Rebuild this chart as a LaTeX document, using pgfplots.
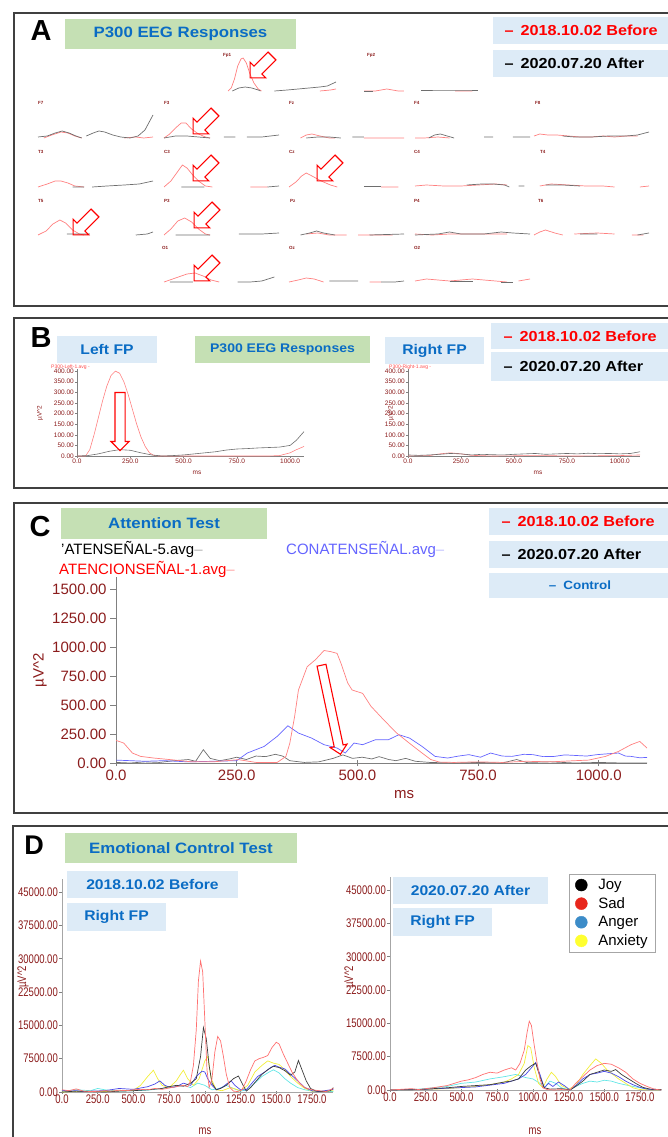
\documentclass[border=0pt]{standalone}
\usepackage{pgfplots}
\pgfplotsset{compat=1.18}
\usepackage{fontspec}
\setmainfont{Liberation Sans}
\newfontfamily\boxfont[FakeStretch=1.12]{Liberation Sans}
\newfontfamily\narrowfont[FakeStretch=0.76]{Liberation Sans}
\usetikzlibrary{shapes.arrows}

\definecolor{boxgreen}{HTML}{C5E0B4}
\definecolor{boxblue}{HTML}{DDEBF7}
\definecolor{titleblue}{HTML}{0A6CC4}
\definecolor{tickred}{HTML}{8B1C1C}
\definecolor{eegred}{HTML}{FF8080}
\definecolor{eeggray}{HTML}{6E6E6E}
\definecolor{ctrlblue}{HTML}{6464FF}
\definecolor{dsad}{HTML}{FF7070}
\definecolor{djoy}{HTML}{3C3C3C}
\definecolor{danger}{HTML}{4A4AE8}
\definecolor{danx}{HTML}{F2EE3A}
\definecolor{dcyan}{HTML}{62E6E6}
\definecolor{legred}{HTML}{E8261C}
\definecolor{legblue}{HTML}{3C8CC8}
\definecolor{legyellow}{HTML}{FFFF30}

\newcommand{\bxf}[1]{\boxfont\bfseries\fontsize{#1}{#1}\selectfont}
\newcommand{\dfont}{\narrowfont\fontsize{12.5}{12.5}\selectfont}

\pgfplotsset{
  mini/.style={scale only axis, height=35pt, xmin=0, xmax=100, ymin=0, ymax=35,
    hide axis, anchor=south west, clip=false, unbounded coords=jump},
  ared/.style={eegred, line width=0.7pt},
  agray/.style={eeggray, line width=0.7pt},
  baxis/.style={scale only axis, anchor=south west, height=87pt, ymin=0, ymax=410, xmin=0,
    axis x line=bottom, axis y line=left, axis line style={-, gray, line width=0.5pt},
    xtick={0,250,500,750,1000}, ytick={0,50,...,400},
    tick style={gray, line width=0.4pt}, major tick length=2pt, tick align=outside,
    ticklabel style={font=\fontsize{6.5}{6.5}\selectfont, text=tickred, inner sep=1pt},
    /pgf/number format/assume math mode=true, scaled ticks=false,
    xticklabel style={/pgf/number format/.cd, fixed, fixed zerofill, precision=1, 1000 sep={}},
    yticklabel style={/pgf/number format/.cd, fixed, fixed zerofill, precision=2, 1000 sep={}},
    unbounded coords=jump},
  daxis/.style={scale only axis, anchor=south west, width=271.4pt, height=213.3pt,
    xmin=0, xmax=1900, ymin=0, ymax=48000,
    axis x line=bottom, axis y line=left, axis line style={-, gray!70, line width=0.6pt},
    xtick={0,250,...,1750}, ytick={0,7500,...,45000},
    tick style={gray, line width=0.5pt}, major tick length=3pt, xtick align=center, ytick align=outside,
    ticklabel style={font=\dfont, text=tickred, inner sep=1pt},
    /pgf/number format/assume math mode=true, scaled ticks=false,
    xticklabel style={/pgf/number format/.cd, fixed, fixed zerofill, precision=1, 1000 sep={}},
    yticklabel style={/pgf/number format/.cd, fixed, fixed zerofill, precision=2, 1000 sep={}}},
}

\newcommand{\mini}[5]{%
  \begin{axis}[mini, width=#3pt, at={(#1pt,-#2pt)}]
    \addplot[ared] coordinates {#4};
    \addplot[agray] coordinates {#5};
  \end{axis}}

\begin{document}
\begin{tikzpicture}
% ================= Panel A: mini traces =================
\mini{228}{91}{108}{(0,0)(3,3)(6,12)(9,25)(12,32)(14,33)(17,28)(20,18)(24,8)(28,2)(31,0) (31,nan) (85,0)(95,1)(100,2)}{(4,0)(10,3)(16,4)(22,3)(28,1)(30,0) (30,nan) (43,0)(55,1)(65,2)(75,3)(85,4)(92,5)(100,9)}
\mini{364}{91}{114}{(0,0)(10,0)(15,1)(20,2)(25,1)(30,0)(35,0) (35,nan) (80,0)(95,0)}{(0,0)(8,0) (8,nan) (50,1)(70,1)(90,1)(100,1)}
% row 2
\mini{38}{138}{115}{(5,0)(12,3)(20,6)(26,5)(32,2)(38,0) (38,nan) (75,0)(85,1)(92,0)(100,1)}{(0,1)(8,2)(15,5)(21,7)(27,5)(33,2)(38,0) (38,nan) (42,2)(48,5)(53,7)(58,6)(65,3)(72,1)(80,0)(87,2)(93,8)(100,23)}
\mini{164}{138}{115}{(0,0)(5,4)(10,10)(15,15)(19,15)(24,9)(30,4)(36,1)(40,0)}{(0,0)(10,2)(20,2)(30,1)(40,0) (40,nan) (52,1)(62,1) (62,nan) (72,1)(85,1)(100,3)}
\mini{289}{138}{115}{(10,0)(15,3)(20,4)(27,2)(35,0)(40,0) (40,nan) (65,0)(100,0)}{(15,0)(25,1)(35,1)(45,0) (45,nan) (55,1)(65,1)}
\mini{415}{138}{115}{(0,0)(8,0)(20,1)(30,0)}{(12,0)(17,3)(22,4)(28,2)(34,0) (34,nan) (60,1)(68,1) (68,nan) (85,1)(100,1)}
\mini{534}{138}{115}{(0,2)(5,4)(12,3)(20,3)(30,2)(40,1)(50,1)(60,2)(70,1)(80,2)(90,2)}{(25,2)(35,1)(50,1)(65,2)(80,2)(90,3)(100,6)}
% row 3
\mini{38}{187}{115}{(0,0)(8,3)(15,6)(20,6)(26,4)(32,1)(40,0)}{(30,0)(40,0) (40,nan) (47,0)(60,1)(75,2)(88,3)(100,6)}
\mini{164}{187}{115}{(0,0)(6,6)(11,14)(16,22)(20,19)(25,12)(30,6)(36,1)(42,0) (42,nan) (75,0)(90,0)}{(15,0)(35,0) (35,nan) (90,0)(100,1)}
\mini{289}{187}{115}{(0,0)(6,5)(11,11)(15,14)(20,11)(28,6)(36,2)(42,0) (42,nan) (80,0)(95,0)}{(65,1)(80,1)}
\mini{415}{187}{115}{(0,1)(10,2)(25,1)(40,1)(55,2)(70,3)(80,2)}{(45,2)(58,3)(68,3)(78,2)(82,0) (82,nan) (90,1)(95,1)}
\mini{534}{187}{115}{(5,1)(15,3)(30,2)(45,1)(60,1)(70,0) (70,nan) (92,0)(100,1)}{(10,2)(25,2)(40,1)}
% row 4
\mini{38}{235}{115}{(0,0)(7,4)(13,11)(19,15)(24,12)(30,5)(36,1)(40,0)}{(25,1)(45,1) (45,nan) (85,0)(95,1)(100,3)}
\mini{164}{235}{115}{(0,0)(6,6)(12,14)(18,17)(24,13)(30,6)(36,1)(40,0)}{(10,0)(40,0) (40,nan) (65,1)(85,1)(100,2)}
\mini{289}{235}{115}{(15,1)(25,2)(35,0)(50,0) (50,nan) (60,0)(90,0)}{(10,0)(18,2)(24,4)(30,2)(40,0) (40,nan) (70,0)(100,1)}
\mini{415}{235}{115}{(0,1)(15,0)(30,1)(50,1)(80,1)}{(0,0)(20,1)(30,3)(40,1)(60,1)(75,3)(85,2)(100,1)}
\mini{534}{235}{115}{(0,0)(5,3)(10,5)(18,2)(25,0) (25,nan) (35,1)(55,2)(70,1) (70,nan) (85,0)(95,0)}{(40,1)(55,1) (55,nan) (90,0)(100,2)}
% row 5
\mini{164}{282}{115}{(0,0)(10,4)(20,8)(27,9)(34,6)(41,2)(48,0)}{(5,0)(25,0) (25,nan) (64,0)(75,0)(85,1)(96,5)}
\mini{289}{282}{115}{(0,0)(8,2)(15,4)(22,3)(30,0) (30,nan) (70,0)(80,0)}{(35,1)(60,1) (60,nan) (80,0)(92,0)(100,1)}
\mini{415}{282}{115}{(0,1)(10,3)(20,2)(30,1)(40,2)(50,3)(60,2)(70,1)(80,0) (80,nan) (90,1)(100,3)}{(30,1)(50,1) (50,nan) (75,0)(85,0)}

% ================= Panel B =================
\begin{axis}[baxis, at={(77pt,-456pt)}, width=227pt, xmax=1065]
  \addplot[eegred, line width=0.6pt] coordinates {(0,0)(40,0)(60,30)(80,100)(100,180)(120,260)(140,330)(160,380)(180,400)(200,390)(220,350)(240,290)(260,220)(280,150)(300,90)(320,45)(340,15)(360,3)(380,0)(450,0)(700,0)(900,0)(950,2)(1000,15)(1030,30)(1065,45)};
  \addplot[eeggray, line width=0.6pt] coordinates {(0,0)(50,2)(100,10)(150,22)(200,30)(250,27)(300,15)(350,5)(400,0)(450,2)(500,5)(550,10)(600,15)(650,20)(700,28)(750,33)(800,35)(850,38)(900,40)(950,42)(1000,50)(1030,75)(1065,115)};
\end{axis}
\begin{axis}[baxis, at={(408pt,-456pt)}, width=232pt, xmax=1095]
  \addplot[eegred, line width=0.6pt] coordinates {(0,0)(100,2)(150,10)(200,15)(250,10)(300,3)(400,0)(600,2)(800,0)(1000,2)(1095,5)};
  \addplot[eeggray, line width=0.6pt] coordinates {(0,5)(50,3)(100,5)(150,8)(200,12)(250,10)(300,5)(350,8)(400,6)(450,5)(500,8)(550,10)(600,12)(650,8)(700,10)(750,12)(800,10)(850,13)(900,11)(950,12)(1000,10)(1050,12)(1095,20)};
\end{axis}

% ================= Panel C =================
\begin{axis}[at={(116pt,-763pt)}, anchor=south west, scale only axis, width=531pt, height=185.6pt,
  xmin=0, xmax=1100, ymin=0, ymax=1600,
  axis x line=bottom, axis y line=left, axis line style={-, gray, line width=0.8pt},
  xtick={0,250,500,750,1000}, ytick={0,250,...,1500},
  xtick align=center, ytick align=outside, major tick length=6pt, tick style={gray, line width=0.8pt},
  ticklabel style={font=\fontsize{15}{15}\selectfont, text=tickred},
  /pgf/number format/assume math mode=true, scaled ticks=false,
  xticklabel style={/pgf/number format/.cd, fixed, fixed zerofill, precision=1, 1000 sep={}},
  yticklabel style={/pgf/number format/.cd, fixed, fixed zerofill, precision=2, 1000 sep={}}]
  \addplot[eeggray, line width=0.7pt] coordinates {(0,5)(30,0)(60,10)(90,5)(120,20)(150,30)(165,15)(181,115)(195,40)(215,20)(235,35)(250,50)(270,30)(290,60)(310,55)(330,75)(345,60)(360,20)(390,5)(420,10)(450,40)(470,70)(490,40)(510,50)(530,35)(545,55)(565,30)(580,20)(600,40)(620,15)(650,5)(700,0)(750,5)(800,0)(830,30)(850,5)(900,10)(950,0)(1000,5)(1050,0)(1100,0)};
  \addplot[ctrlblue, line width=0.7pt] coordinates {(0,25)(30,20)(60,15)(100,20)(150,10)(200,15)(250,20)(272,86)(307,143)(334,230)(356,321)(378,258)(405,215)(431,158)(458,129)(475,86)(493,172)(511,158)(537,200)(564,200)(586,244)(608,215)(634,143)(661,57)(687,43)(710,60)(731,72)(755,50)(776,86)(800,60)(820,57)(845,75)(864,72)(885,55)(908,57)(930,70)(952,65)(975,60)(996,72)(1020,80)(1041,86)(1055,60)(1067,57)(1085,45)(1100,48)};
  \addplot[eegred, line width=0.7pt] coordinates {(0,195)(16,172)(34,86)(51,57)(78,43)(113,29)(157,10)(201,10)(254,29)(290,5)(334,5)(352,57)(360,170)(370,400)(378,630)(396,830)(413,890)(431,970)(445,960)(458,945)(466,860)(480,690)(489,630)(511,600)(528,490)(555,370)(581,260)(608,170)(634,86)(652,30)(670,8)(700,5)(750,10)(800,5)(850,15)(900,10)(950,20)(979,25)(1014,57)(1041,100)(1067,158)(1085,186)(1100,129)};
\end{axis}

% ================= Panel D =================
\begin{axis}[daxis, at={(62pt,-1092pt)}]
  \addplot[dcyan, line width=0.7pt] coordinates {(0,200)(100,500)(200,300)(250,800)(300,500)(400,200)(500,300)(600,400)(700,800)(800,1200)(850,1500)(900,1000)(950,2000)(1000,1500)(1050,500)(1100,800)(1150,1500)(1200,800)(1250,200)(1300,500)(1350,2000)(1400,3500)(1450,4500)(1480,5000)(1520,4300)(1560,3000)(1600,2000)(1650,1000)(1700,500)(1750,200)(1900,100)};
  \addplot[danx, line width=0.7pt] coordinates {(0,0)(100,100)(200,200)(300,100)(400,300)(500,400)(550,1500)(600,3500)(640,4900)(670,3000)(700,1500)(750,1000)(800,2500)(830,4000)(850,4900)(880,3000)(920,1500)(960,3000)(1000,7000)(1020,8000)(1045,3000)(1080,500)(1120,300)(1180,1000)(1250,300)(1300,1500)(1350,4500)(1400,6000)(1440,7000)(1480,6500)(1520,6200)(1560,5000)(1600,3500)(1650,2000)(1700,800)(1750,200)(1800,100)(1900,300)};
  \addplot[danger, line width=0.7pt] coordinates {(0,400)(50,200)(100,300)(150,100)(200,200)(300,300)(400,800)(450,700)(500,600)(550,900)(600,1200)(650,1800)(685,2500)(720,1500)(760,1000)(800,1200)(850,2000)(900,1500)(940,3500)(980,4700)(1000,4500)(1020,3000)(1050,1500)(1080,500)(1120,1000)(1160,2000)(1185,2500)(1210,1500)(1250,500)(1290,500)(1330,2000)(1370,3500)(1420,4500)(1460,5500)(1490,6000)(1520,5600)(1560,5200)(1600,4000)(1650,2500)(1700,1000)(1750,300)(1800,100)(1900,600)};
  \addplot[djoy, line width=0.7pt] coordinates {(0,0)(100,200)(200,100)(300,0)(400,200)(500,300)(600,500)(700,800)(750,1200)(800,1500)(850,1300)(900,2000)(940,3000)(970,8000)(990,14500)(1010,12000)(1030,6000)(1050,2000)(1080,500)(1110,800)(1150,1500)(1200,3000)(1235,3600)(1260,2000)(1290,200)(1320,1000)(1360,2500)(1400,4000)(1440,5000)(1480,5800)(1520,5500)(1560,4800)(1600,3800)(1630,4500)(1655,7100)(1680,5000)(1710,2500)(1740,800)(1780,200)(1830,100)(1880,300)(1900,1000)};
  \addplot[dsad, line width=0.7pt] coordinates {(0,500)(50,300)(100,700)(150,200)(200,100)(250,150)(300,300)(350,200)(400,400)(450,300)(500,500)(550,600)(600,500)(650,800)(700,600)(750,900)(800,1200)(850,1500)(880,1200)(900,2500)(920,6000)(940,14000)(955,25000)(970,29500)(985,27000)(1000,16000)(1015,5000)(1030,1000)(1050,3000)(1070,9000)(1090,12500)(1110,11500)(1130,8000)(1150,4000)(1175,1000)(1200,200)(1230,100)(1260,500)(1290,2500)(1320,5000)(1350,7000)(1380,7500)(1410,7800)(1440,8200)(1470,10000)(1500,11200)(1520,10800)(1550,8500)(1580,6500)(1610,4500)(1640,3000)(1670,1800)(1700,1000)(1750,500)(1800,300)(1850,100)(1900,800)};
\end{axis}
\begin{axis}[daxis, at={(390pt,-1090pt)},
  legend style={at={(0.66,1.013)}, anchor=north west, draw=gray!70, fill=white,
    font=\fontsize{15}{15}\selectfont, inner xsep=6pt, inner ysep=3pt, row sep=2.5pt},
  legend cell align=left]
  \addplot[dcyan, line width=0.7pt, forget plot] coordinates {(0,0)(200,200)(400,800)(500,1500)(600,1800)(700,2500)(800,3000)(880,3500)(950,2800)(1000,2500)(1050,1500)(1080,500)(1120,2000)(1160,1500)(1200,500)(1260,0)(1300,800)(1350,1500)(1400,2000)(1450,1800)(1500,2200)(1550,2000)(1600,1500)(1700,800)(1800,200)(1900,0)};
  \addplot[danx, line width=0.7pt, forget plot] coordinates {(0,0)(200,100)(400,300)(600,800)(700,1200)(800,1800)(850,2500)(900,3500)(940,6000)(965,10000)(985,9500)(1010,5000)(1040,1500)(1070,500)(1100,2500)(1130,4000)(1160,3000)(1200,1000)(1250,200)(1300,1000)(1350,3500)(1400,5500)(1440,7000)(1480,6000)(1520,4500)(1560,3500)(1600,2500)(1650,1500)(1700,500)(1750,100)(1900,0)};
  \addplot[danger, line width=0.7pt, forget plot] coordinates {(0,0)(200,100)(400,400)(600,700)(800,1500)(900,2500)(950,3500)(990,5000)(1020,6200)(1050,3500)(1080,500)(1110,1500)(1140,800)(1180,1800)(1220,1000)(1260,0)(1300,1000)(1350,2500)(1400,3500)(1450,3800)(1500,4200)(1550,3800)(1600,3000)(1650,2000)(1700,1200)(1750,600)(1800,200)(1900,0)};
  \addplot[djoy, line width=0.7pt, forget plot] coordinates {(0,0)(200,100)(400,500)(500,800)(600,1000)(700,1200)(800,1800)(850,2000)(900,2500)(950,4500)(990,5500)(1020,6000)(1050,3000)(1080,500)(1120,200)(1200,300)(1260,0)(1300,800)(1350,2000)(1400,3500)(1450,4000)(1500,4500)(1550,4200)(1580,4600)(1620,3500)(1670,2500)(1720,1500)(1770,600)(1820,200)(1900,100)};
  \addplot[dsad, line width=0.7pt, forget plot] coordinates {(0,0)(100,200)(150,300)(200,100)(300,500)(400,1000)(450,1500)(500,2000)(550,2300)(600,2800)(650,3500)(700,4000)(750,3800)(800,4500)(850,5000)(880,4500)(910,6000)(940,9000)(960,13000)(975,15500)(990,14500)(1010,10000)(1030,6000)(1050,2500)(1070,500)(1100,100)(1150,0)(1200,100)(1260,0)(1300,1500)(1350,3000)(1400,4500)(1450,5500)(1500,6000)(1550,5800)(1600,5000)(1650,4000)(1700,2500)(1750,1500)(1800,800)(1850,200)(1900,0)};
  \addlegendimage{only marks, mark=*, mark size=6pt, black}
  \addlegendentry{\hspace{9pt}Joy}
  \addlegendimage{only marks, mark=*, mark size=6pt, legred}
  \addlegendentry{\hspace{9pt}Sad}
  \addlegendimage{only marks, mark=*, mark size=6pt, legblue}
  \addlegendentry{\hspace{9pt}Anger}
  \addlegendimage{only marks, mark=*, mark size=6pt, legyellow}
  \addlegendentry{\hspace{9pt}Anxiety}
\end{axis}

% ================= Decorations =================
\begin{scope}[x=1pt,y=-1pt]
  % panel borders
  \draw[black!75, line width=1.8pt] (14,13) rectangle (700,306);
  \draw[black!75, line width=1.8pt] (14,318) rectangle (700,488);
  \draw[black!75, line width=1.8pt] (14,503) rectangle (700,813);
  \draw[black!75, line width=1.8pt] (13,826) rectangle (700,1180);

  % ---- Panel A ----
  \node at (41,31) {\bfseries\fontsize{29}{29}\selectfont A};
  \fill[boxgreen] (65,19) rectangle (296,49);
  \node[text=titleblue] at (180.5,34) {\bxf{15}P300 EEG Responses};
  \fill[boxblue] (493,17) rectangle (700,44);
  \node[anchor=west, text=red] at (501,30.5) {\bxf{14.5}–\hspace{7pt}2018.10.02 Before};
  \fill[boxblue] (493,50) rectangle (700,77);
  \node[anchor=west, text=black] at (501,63.5) {\bxf{14.5}–\hspace{7pt}2020.07.20 After};
  % electrode labels
  \begin{scope}[every node/.style={text=tickred, font=\bfseries\fontsize{4.5}{4.5}\selectfont, anchor=west, inner sep=0pt}]
    \node at (223,55) {Fp1}; \node at (367,55) {Fp2};
    \node at (38,103) {F7}; \node at (164,103) {F3}; \node at (289,103) {Fz}; \node at (414,103) {F4}; \node at (535,103) {F8};
    \node at (38,152) {T3}; \node at (164,152) {C3}; \node at (289,152) {Cz}; \node at (414,152) {C4}; \node at (540,152) {T4};
    \node at (38,201) {T5}; \node at (164,201) {P3}; \node at (290,201) {Pz}; \node at (414,201) {P4}; \node at (538,201) {T6};
    \node at (162,248) {O1}; \node at (289,248) {Oz}; \node at (414,248) {O2};
  \end{scope}
  % block arrows
  \begin{scope}[every node/.style={single arrow, draw=red, line width=1.1pt, minimum height=31pt,
      inner xsep=0pt, inner ysep=5pt, single arrow head extend=5.5pt, rotate=225}]
    \node at (263,65) {};
    \node at (206,121) {};
    \node at (206,168) {};
    \node at (330,168) {};
    \node at (86,222) {};
    \node at (207,215) {};
    \node at (207,268) {};
  \end{scope}

  % ---- Panel B ----
  \node at (41,338) {\bfseries\fontsize{29}{29}\selectfont B};
  \fill[boxblue] (57,336) rectangle (157,363);
  \node[text=titleblue] at (107,349.5) {\bxf{14}Left FP};
  \fill[boxgreen] (195,336) rectangle (370,363);
  \node[text=titleblue] at (282.5,349.5) {\bxf{12.5}P300 EEG Responses};
  \fill[boxblue] (385,337) rectangle (484,364);
  \node[text=titleblue] at (434.5,350.5) {\bxf{14}Right FP};
  \fill[boxblue] (491,323) rectangle (700,349);
  \node[anchor=west, text=red] at (500,336) {\bxf{14.5}–\hspace{7pt}2018.10.02 Before};
  \fill[boxblue] (491,352) rectangle (700,381);
  \node[anchor=west, text=black] at (500,366.5) {\bxf{14.5}–\hspace{7pt}2020.07.20 After};
  \node[anchor=west, text=red!70, font=\fontsize{5}{5}\selectfont, inner sep=0pt] at (51,367) {P300-Left-1.avg -};
  \node[anchor=west, text=red!70, font=\fontsize{5}{5}\selectfont, inner sep=0pt] at (389,367) {P300-Right-1.avg -};
  \node[text=tickred, font=\fontsize{6.5}{6.5}\selectfont] at (197,473) {ms};
  \node[text=tickred, font=\fontsize{6.5}{6.5}\selectfont] at (538,473) {ms};
  \node[text=tickred, font=\fontsize{6.5}{6.5}\selectfont, rotate=90] at (40,413) {µV\textasciicircum 2};
  \node[text=tickred, font=\fontsize{6.5}{6.5}\selectfont, rotate=90] at (391,413) {µV\textasciicircum 2};
  \node[single arrow, draw=red, line width=1.1pt, minimum height=58pt, inner xsep=0pt, inner ysep=4.5pt,
    single arrow head extend=4pt, rotate=270] at (120,419) {};

  % ---- Panel C ----
  \node at (40,527) {\bfseries\fontsize{29}{29}\selectfont C};
  \fill[boxgreen] (61,508) rectangle (267,539);
  \node[text=titleblue] at (164,523.5) {\bxf{15}Attention Test};
  \fill[boxblue] (489,508) rectangle (700,535);
  \node[anchor=west, text=red] at (498,521.5) {\bxf{14.5}–\hspace{7pt}2018.10.02 Before};
  \fill[boxblue] (489,541) rectangle (700,568);
  \node[anchor=west, text=black] at (498,554.5) {\bxf{14.5}–\hspace{7pt}2020.07.20 After};
  \fill[boxblue] (489,573) rectangle (700,598);
  \node[text=titleblue] at (580,585.5) {\bxf{12}–\hspace{7pt}Control};
  \node[anchor=west, font=\fontsize{15}{15}\selectfont, inner sep=0pt] at (61,549) {'ATENSEÑAL-5.avg{\color{gray!60}–}};
  \node[anchor=west, font=\fontsize{15}{15}\selectfont, inner sep=0pt, text=ctrlblue] at (286,549) {CONATENSEÑAL.avg{\color{ctrlblue!40}–}};
  \node[anchor=west, font=\fontsize{15}{15}\selectfont, inner sep=0pt, text=red] at (59,569) {ATENCIONSEÑAL-1.avg{\color{red!35}–}};
  \node[text=tickred, font=\fontsize{15}{15}\selectfont] at (404,795) {ms};
  \node[text=tickred, font=\fontsize{15}{15}\selectfont, rotate=90] at (40,670) {µV\textasciicircum 2};
  \node[single arrow, draw=red, line width=1.1pt, minimum height=91pt, inner xsep=0pt, inner ysep=4pt,
    single arrow head extend=4pt, rotate=-78] at (330.5,707.5) {};

  % ---- Panel D ----
  \node at (34,845) {\bfseries\fontsize{27}{27}\selectfont D};
  \fill[boxgreen] (65,833) rectangle (297,863);
  \node[text=titleblue] at (181,848) {\bxf{15}Emotional Control Test};
  \fill[boxblue] (67,871) rectangle (238,898);
  \node[text=titleblue] at (152.5,884.5) {\bxf{14}2018.10.02 Before};
  \fill[boxblue] (67,903) rectangle (166,931);
  \node[text=titleblue] at (116.5,917) {\bxf{14}Right FP};
  \fill[boxblue] (393,877) rectangle (548,904);
  \node[text=titleblue] at (470.5,890.5) {\bxf{14}2020.07.20 After};
  \fill[boxblue] (393,908) rectangle (492,936);
  \node[text=titleblue] at (442.5,922) {\bxf{14}Right FP};
  \node[text=tickred, font=\dfont] at (205,1131) {ms};
  \node[text=tickred, font=\dfont] at (535,1131) {ms};
  \node[text=tickred, font=\dfont, rotate=90] at (23,977) {µV\textasciicircum 2};
  \node[text=tickred, font=\dfont, rotate=90] at (350,977) {µV\textasciicircum 2};
\end{scope}

\pgfresetboundingbox
\path[use as bounding box] (0pt,0pt) rectangle (667pt,-1137pt);
\end{tikzpicture}
\end{document}
